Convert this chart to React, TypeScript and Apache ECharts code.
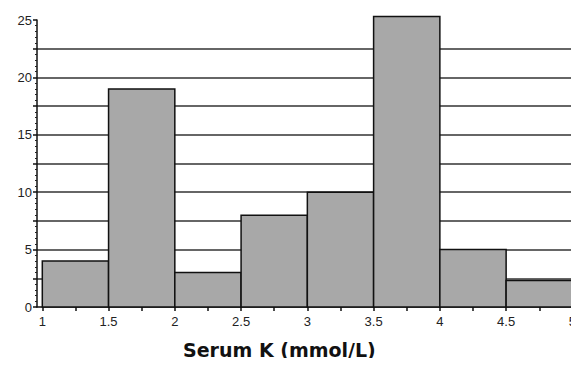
import React, { useEffect, useRef } from "react";
import * as echarts from "echarts";

const binStarts = [1, 1.5, 2, 2.5, 3, 3.5, 4, 4.5];
const binEnds = [1.5, 2, 2.5, 3, 3.5, 4, 4.5, 5];
const counts = [4, 19, 3, 8, 10, 25.3, 5, 2.3];
const xTickLabels = [1, 1.5, 2, 2.5, 3, 3.5, 4, 4.5, 5];
const xMinorTicks = [1, 1.25, 1.5, 1.75, 2, 2.25, 2.5, 2.75, 3, 3.25, 3.5, 3.75, 4, 4.25, 4.5, 4.75, 5];
const yTickLabels = [0, 5, 10, 15, 20, 25];
const xTitle = "Serum K (mmol/L)";

export default function App() {
  const ref = useRef<HTMLDivElement>(null);
  useEffect(() => {
    if (!ref.current) return;
    const chart = echarts.init(ref.current, undefined, { renderer: "svg" });
    const data = binStarts.map((s, i) => [s, binEnds[i], counts[i]]);
    chart.setOption({
      animation: false,
      backgroundColor: "#ffffff",
      grid: { left: 37, right: 1, top: 20, bottom: 59 },
      xAxis: {
        type: "value",
        min: 0.96,
        max: 5,
        axisLine: { show: true, lineStyle: { color: "#111", width: 1.5 } },
        axisTick: {
          show: true,
          customValues: xMinorTicks,
          length: 4,
          lineStyle: { color: "#111", width: 1.5 },
        },
        axisLabel: {
          customValues: xTickLabels,
          margin: 8,
          color: "#222",
          fontFamily: "Liberation Sans",
          fontSize: 13,
          formatter: (v: number) => String(v),
        },
        splitLine: { show: false },
      },
      yAxis: {
        type: "value",
        min: 0,
        max: 25,
        interval: 2.5,
        axisLine: { show: true, lineStyle: { color: "#111", width: 1.5 } },
        axisTick: {
          show: true,
          length: 4,
          lineStyle: { color: "#111", width: 1.5 },
        },
        minorTick: { show: true, splitNumber: 5, length: 2, lineStyle: { color: "#222" } },
        axisLabel: {
          margin: 5,
          color: "#222",
          fontFamily: "Liberation Sans",
          fontSize: 13,
          formatter: (v: number) => (v % 5 === 0 ? String(v) : ""),
        },
        splitLine: {
          show: true,
          showMinLine: false,
          showMaxLine: false,
          lineStyle: { color: "#333", width: 1.5 },
        },
      },
      graphic: [
        {
          type: "text",
          left: 183,
          top: 340,
          style: {
            text: xTitle,
            font: "bold 19px 'DejaVu Sans'",
            fill: "#111",
          },
        },
      ],
      series: [
        {
          type: "custom",
          data,
          renderItem: (params: any, api: any) => {
            const p0 = api.coord([api.value(0), 0]);
            const p1 = api.coord([api.value(1), api.value(2)]);
            return {
              type: "rect",
              shape: { x: p0[0], y: p1[1], width: p1[0] - p0[0], height: p0[1] - p1[1] },
              style: { fill: "#a8a8a8", stroke: "#111", lineWidth: 1.5 },
            };
          },
        },
      ],
    });
    return () => chart.dispose();
  }, []);
  return <div ref={ref} style={{ width: 579, height: 366, margin: -8 }} />;
}
